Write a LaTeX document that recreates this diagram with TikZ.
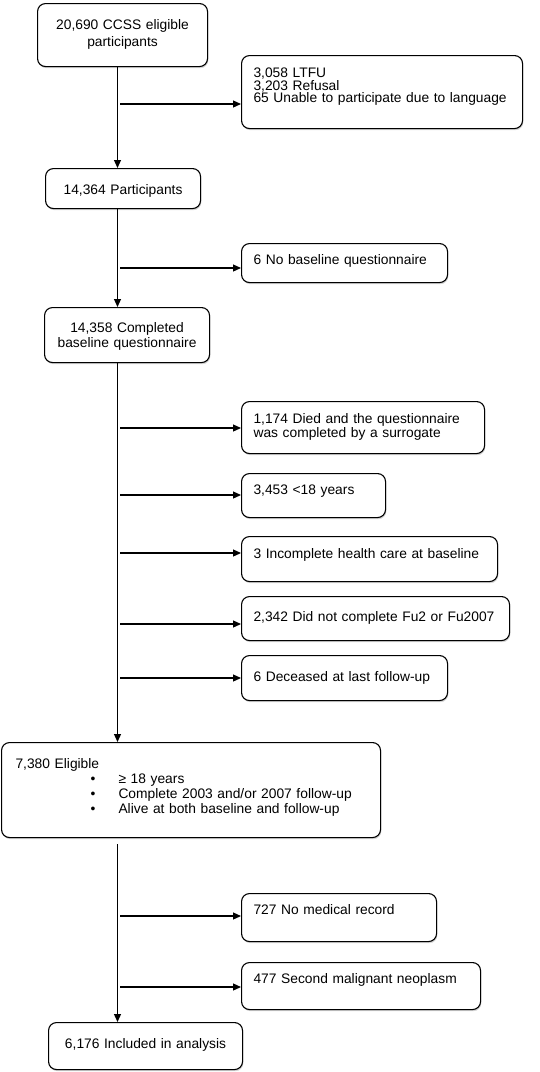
\documentclass[tikz,border=0pt]{standalone}
\usepackage{fontspec}
\setmainfont{Liberation Sans}
\usetikzlibrary{arrows.meta,shadows}
\tikzset{
  box/.style={draw, rounded corners=8pt, line width=1.1pt, anchor=north west,
    inner xsep=12pt, inner ysep=0pt, align=left, fill=white,
    drop shadow={shadow xshift=0.8pt, shadow yshift=-1.6pt, opacity=0.35}},
  arr/.style={-{Triangle[length=8pt,width=7pt]}, line width=1.2pt}
}
\newcommand{\itm}[1]{\hspace*{75pt}\makebox[28pt][l]{\textbullet}#1}
\begin{document}
\begin{tikzpicture}[x=1pt,y=-1pt,font=\fontsize{13.8}{15}\selectfont]
  \useasboundingbox (0,0) rectangle (539,1072);
  \node[box, align=center, text width=146pt, text height=26pt, text depth=37pt,
    font=\fontsize{13.8}{17}\selectfont] (top) at (37,3)
    {20,690 CCSS eligible\\participants};
  \node[box, text width=257pt, text height=22pt, text depth=51pt,
    font=\fontsize{13.8}{12.5}\selectfont] (ltfu) at (241,55)
    {3,058 LTFU\\3,203 Refusal\\65 Unable to participate due to language};
  \node[box, align=center, text width=131pt, text height=26pt, text depth=14pt] (part) at (45,168)
    {14,364 Participants};
  \node[box, text width=182pt, text height=21pt, text depth=18pt] (nobase) at (241,243)
    {6 No baseline questionnaire};
  \node[box, align=center, text width=141pt, text height=25pt, text depth=30pt] (done) at (44,307)
    {14,358 Completed\\baseline questionnaire};
  \node[box, text width=219pt, text height=22pt, text depth=30pt,
    font=\fontsize{13.8}{11.5}\selectfont] (surr) at (241,401)
    {1,174 Died and the questionnaire\\was completed by a surrogate};
  \node[box, text width=120pt, text height=21pt, text depth=23pt] (minor) at (241,473)
    {3,453 <18 years};
  \node[box, text width=232pt, text height=22pt, text depth=23pt] (hcare) at (241,536)
    {3 Incomplete health care at baseline};
  \node[box, text width=244pt, text height=25pt, text depth=19pt] (fu) at (241,596)
    {2,342 Did not complete Fu2 or Fu2007};
  \node[box, text width=182pt, text height=26pt, text depth=19pt] (dead) at (241,655)
    {6 Deceased at last follow-up};
  \node[box, inner xsep=14pt, text width=351pt, text height=26pt, text depth=69pt] (elig) at (1,742)
    {7,380 Eligible\\\itm{≥ 18 years}\\\itm{Complete 2003 and/or 2007 follow-up}\\\itm{Alive at both baseline and follow-up}};
  \node[box, text width=171pt, text height=21pt, text depth=27pt] (nomed) at (241,893)
    {727 No medical record};
  \node[box, text width=215pt, text height=21pt, text depth=26pt] (smn) at (241,962)
    {477 Second malignant neoplasm};
  \node[box, align=center, text width=170pt, text height=26pt, text depth=21pt] (incl) at (48,1022)
    {6,176 Included in analysis};

  \coordinate (spine) at (117.5,0);
  \draw[arr] (top.south -| spine) -- (part.north -| spine);
  \draw[arr] (part.south -| spine) -- (done.north -| spine);
  \draw[arr] (done.south -| spine) -- (elig.north -| spine);
  \draw[arr] ([yshift=-6pt]elig.south -| spine) -- (incl.north -| spine);

  \coordinate (j1) at (120,104);
  \coordinate (j2) at (120,268);
  \coordinate (j3) at (120,428);
  \coordinate (j4) at (120,495);
  \coordinate (j5) at (120,553);
  \coordinate (j6) at (120,624);
  \coordinate (j7) at (120,678);
  \coordinate (j8) at (120,916);
  \coordinate (j9) at (120,987);
  \draw[arr] (j1) -- (j1 -| ltfu.west);
  \draw[arr] (j2) -- (j2 -| nobase.west);
  \draw[arr] (j3) -- (j3 -| surr.west);
  \draw[arr] (j4) -- (j4 -| minor.west);
  \draw[arr] (j5) -- (j5 -| hcare.west);
  \draw[arr] (j6) -- (j6 -| fu.west);
  \draw[arr] (j7) -- (j7 -| dead.west);
  \draw[arr] (j8) -- (j8 -| nomed.west);
  \draw[arr] (j9) -- (j9 -| smn.west);
\end{tikzpicture}
\end{document}
